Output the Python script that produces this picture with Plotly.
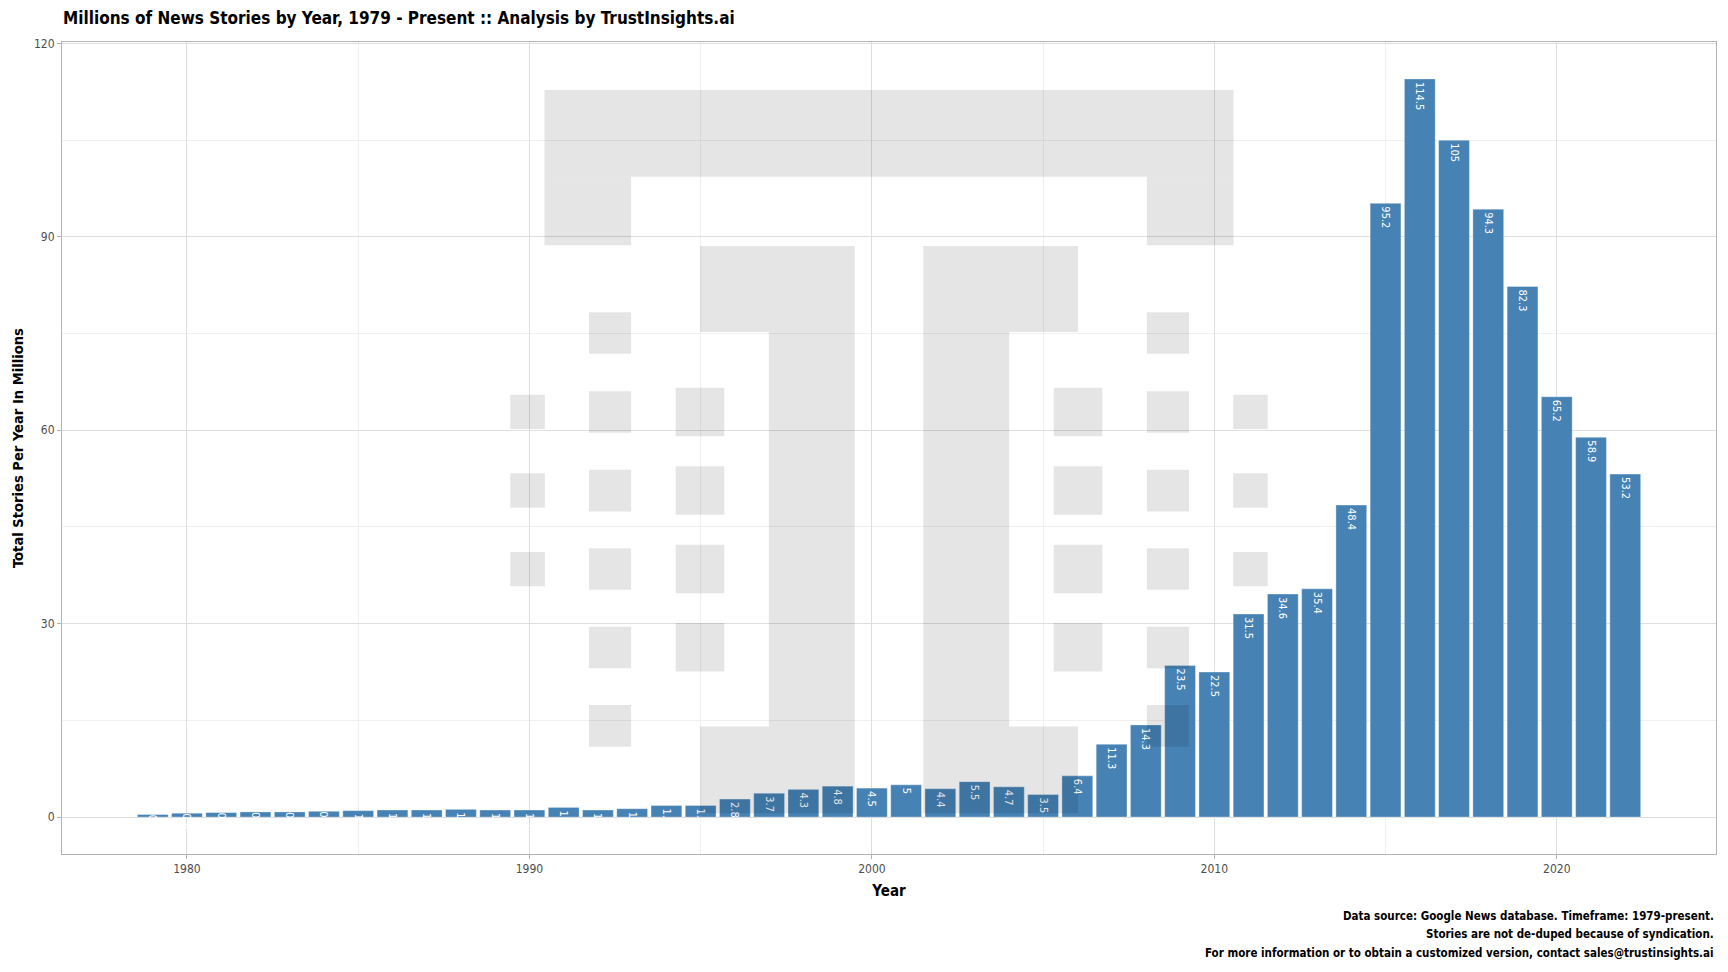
import plotly.graph_objects as go

# ---- data ----
years = list(range(1979, 2023))
stories_millions = [
    0.4, 0.6, 0.7, 0.8, 0.8, 0.9, 1.0, 1.1, 1.1, 1.2,
    1.1, 1.1, 1.5, 1.1, 1.3, 1.8, 1.8, 2.8, 3.7, 4.3,
    4.8, 4.5, 5.0, 4.4, 5.5, 4.7, 3.5, 6.4, 11.3, 14.3,
    23.5, 22.5, 31.5, 34.6, 35.4, 48.4, 95.2, 114.5, 105.0, 94.3,
    82.3, 65.2, 58.9, 53.2,
]
bar_labels = [f"{v:g}" for v in stories_millions]
y_ticks = [0, 30, 60, 90, 120]
x_ticks = [1980, 1990, 2000, 2010, 2020]

title_text = "Millions of News Stories by Year, 1979 - Present :: Analysis by TrustInsights.ai"
x_title = "Year"
y_title = "Total Stories Per Year In Millions"
caption_lines = [
    "Data source: Google News database. Timeframe: 1979-present.",
    "Stories are not de-duped because of syndication.",
    "For more information or to obtain a customized version, contact sales@trustinsights.ai",
]

# ---- watermark logo geometry (decorative, left half; mirrored about centre) ----
logo_center = 2000.5
logo_left_half = [
    # (x0, x1, y0, y1)
    (1990.44, 1992.97, 88.70, 99.32),    # left leg of top bar
    (1994.98, 1999.50, 75.24, 88.60),    # stem top
    (1996.99, 1999.50, 14.07, 75.24),    # stem vertical
    (1994.98, 1999.50, 0.60, 14.07),     # stem foot
    (1989.44, 1990.45, 35.81, 41.13),
    (1989.44, 1990.45, 47.98, 53.35),
    (1989.44, 1990.45, 60.20, 65.50),
    (1991.74, 1992.97, 10.92, 17.37),
    (1991.74, 1992.97, 23.09, 29.53),
    (1991.74, 1992.97, 35.26, 41.69),
    (1991.74, 1992.97, 47.41, 53.86),
    (1991.74, 1992.97, 59.63, 66.07),
    (1991.74, 1992.97, 71.85, 78.29),
    (1994.27, 1995.69, 22.58, 30.09),
    (1994.27, 1995.69, 34.73, 42.26),
    (1994.27, 1995.69, 46.90, 54.43),
    (1994.27, 1995.69, 59.07, 66.59),
]
logo_top_bar = (1990.44, 2010.56, 99.32, 112.77)

FONT = "DejaVu Sans Condensed, Liberation Sans Narrow, Roboto, sans-serif"
BAR_COLOR = "#4682b4"

# page body has an 8px default margin; size the figure so page == window
W, H = 1712, 956
ML, MR, MT, MB = 54, 4, 34, 110
plot_h = H - MT - MB

fig = go.Figure()
fig.add_trace(go.Bar(
    x=years,
    y=stories_millions,
    width=0.9,
    marker=dict(color=BAR_COLOR, line=dict(color="rgba(255,255,255,0.35)", width=1)),
    text=bar_labels,
    textposition="inside",
    insidetextanchor="end",
    textangle=90,
    constraintext="none",
    textfont=dict(color="white", size=11, family=FONT),
    cliponaxis=True,
    hoverinfo="x+y",
))

shapes = []
wm_fill = "rgba(0,0,0,0.1)"
def add_rect(x0, x1, y0, y1):
    shapes.append(dict(type="rect", xref="x", yref="y", x0=x0, x1=x1, y0=y0, y1=y1,
                       fillcolor=wm_fill, line=dict(width=0), layer="above"))

add_rect(*logo_top_bar)
for (x0, x1, y0, y1) in logo_left_half:
    add_rect(x0, x1, y0, y1)
    add_rect(2 * logo_center - x1, 2 * logo_center - x0, y0, y1)

caption_screen_y = [915.8, 934.5, 953.3]
annotations = []
for line, sy in zip(caption_lines, caption_screen_y):
    fy = sy - 8
    annotations.append(dict(
        text=line, xref="paper", yref="paper", x=1,
        y=(H - MB - fy) / plot_h,
        xanchor="right", yanchor="middle", align="right", showarrow=False,
        font=dict(size=11.5, color="black", family=FONT, weight=600),
    ))

fig.update_layout(
    width=W, height=H,
    margin=dict(l=ML, r=MR, t=MT, b=MB),
    paper_bgcolor="white",
    plot_bgcolor="white",
    font=dict(family=FONT, color="#4d4d4d"),
    showlegend=False,
    shapes=shapes,
    title=dict(
        text=title_text,
        x=55 / W, xref="container", xanchor="left",
        y=1 - 9.6 / H, yref="container", yanchor="middle",
        font=dict(size=17, color="black", family=FONT, weight=600),
    ),
    annotations=annotations,
)

fig.update_xaxes(
    range=[1976.35, 2024.65],
    tickvals=x_ticks,
    ticks="outside", ticklen=4, tickcolor="#b3b3b3",
    tickfont=dict(size=12, color="#4d4d4d"),
    showgrid=True, gridcolor="#dedede", gridwidth=1,
    minor=dict(dtick=5, tick0=1980, showgrid=True, gridcolor="#f0f0f0", gridwidth=1),
    showline=True, linecolor="#b3b3b3", linewidth=1, mirror=True,
    zeroline=False, automargin=False,
    title=dict(text=x_title, standoff=10, font=dict(size=15, color="black", weight=600)),
)
fig.update_yaxes(
    range=[-5.725, 120.225],
    tickvals=y_ticks,
    ticks="outside", ticklen=4, tickcolor="#b3b3b3",
    tickfont=dict(size=12, color="#4d4d4d"),
    showgrid=True, gridcolor="#dedede", gridwidth=1,
    minor=dict(dtick=15, tick0=0, showgrid=True, gridcolor="#f0f0f0", gridwidth=1),
    showline=True, linecolor="#b3b3b3", linewidth=1, mirror=True,
    zeroline=False, automargin=False,
    title=dict(text=y_title, standoff=6, font=dict(size=14.6, color="black", weight=600)),
)

fig.write_html("out.html")
